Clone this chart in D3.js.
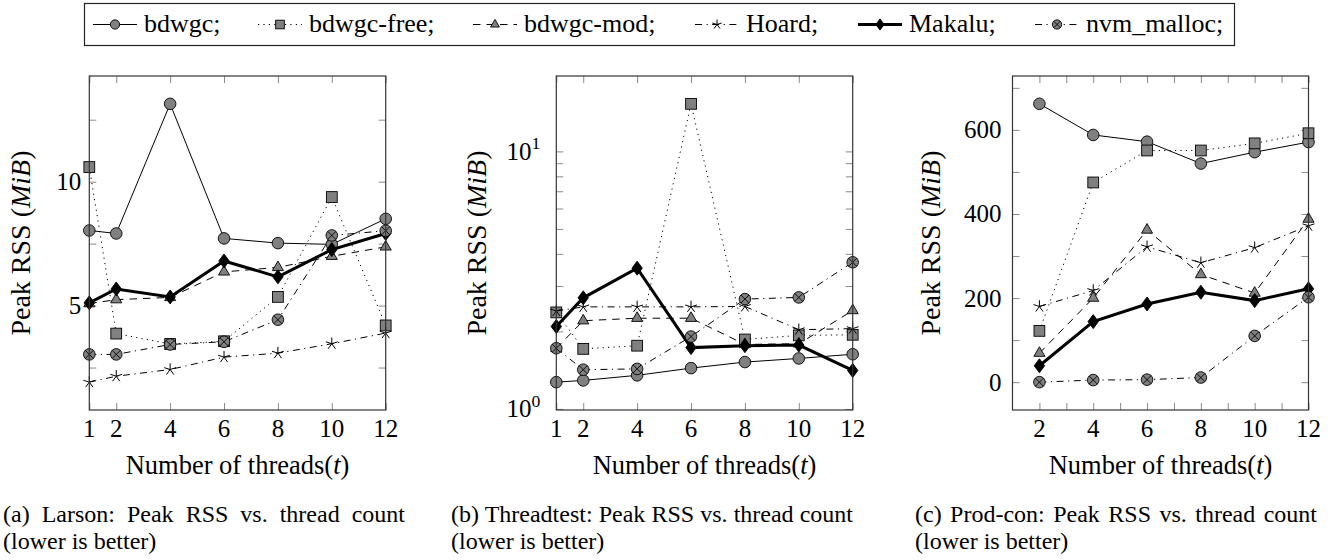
<!DOCTYPE html>
<html>
<head>
<meta charset="utf-8">
<script src="https://cdn.jsdelivr.net/npm/d3@7"></script>
</head>
<body style="margin:0">
<svg id="chart" width="1335" height="560"></svg>
<script>
// ---------------- data ----------------
const seriesNames = ["bdwgc;", "bdwgc-free;", "bdwgc-mod;", "Hoard;", "Makalu;", "nvm_malloc;"];

const threadsAB = [1, 2, 4, 6, 8, 10, 12];
const threadsC = [2, 4, 6, 8, 10, 12];

// (a) Larson
const larsonBdwgc     = [8.03, 7.91, 13.14, 7.71, 7.52, 7.47, 8.50];
const larsonBdwgcFree = [10.59, 3.87, 3.45, 3.56, 5.35, 9.38, 4.20];
const larsonBdwgcMod  = [5.08, 5.24, 5.33, 6.36, 6.54, 6.99, 7.37];
const larsonHoard     = [1.91, 2.15, 2.42, 2.92, 3.08, 3.46, 3.89];
const larsonMakalu    = [5.11, 5.67, 5.35, 6.80, 6.16, 7.26, 7.91];
const larsonNvm       = [3.03, 3.03, 3.43, 3.54, 4.43, 7.83, 8.02];

// (b) Threadtest (log scale)
const ttBdwgc     = [1.27, 1.29, 1.35, 1.44, 1.52, 1.57, 1.63];
const ttBdwgcFree = [2.37, 1.71, 1.76, 15.3, 1.86, 1.93, 1.94];
const ttBdwgcMod  = [1.72, 2.20, 2.25, 2.25, 1.78, 1.79, 2.41];
const ttHoard     = [2.40, 2.49, 2.49, 2.49, 2.50, 2.03, 2.05];
const ttMakalu    = [2.09, 2.70, 3.52, 1.73, 1.76, 1.77, 1.41];
const ttNvm       = [1.72, 1.42, 1.43, 1.91, 2.67, 2.71, 3.71];

// (c) Prod-con
const pcBdwgc     = [662, 588, 572, 520, 547, 571];
const pcBdwgcFree = [122, 475, 551, 551, 568, 592];
const pcBdwgcMod  = [69, 200, 362, 256, 212, 388];
const pcHoard     = [180, 218, 322, 284, 320, 372];
const pcMakalu    = [39, 144, 186, 214, 194, 222];
const pcNvm       = [0, 5, 6, 11, 110, 202];

// ticks
const xTicksAB = [1, 2, 4, 6, 8, 10, 12];
const xTicksC = [2, 4, 6, 8, 10, 12];
const xMinorC = [3, 5, 7, 9, 11];
const yTicksA = [5, 10];
const yMinorA = [2.5, 7.5, 12.5];
const yTicksB = [1, 10];
const yTickLabelsB = [["10", "0"], ["10", "1"]];
const yMinorB = [2, 3, 4, 5, 6, 7, 8, 9];
const yTicksC = [0, 200, 400, 600];
const yMinorC = [100, 300, 500, 700];

const captions = [
  ["(a) Larson: Peak RSS vs. thread count", "(lower is better)"],
  ["(b) Threadtest: Peak RSS vs. thread count", "(lower is better)"],
  ["(c) Prod-con: Peak RSS vs. thread count", "(lower is better)"]
];

// ---------------- styles ----------------
const GRAY = "#808080";
const BASE = 24; // all text is set at this size and scaled with a transform
const styles = [
  { marker: "circle",   width: 1.0, dash: null },
  { marker: "square",   width: 1.0, dash: "1.2 4.2" },
  { marker: "triangle", width: 1.0, dash: "7.5 6" },
  { marker: "star",     width: 1.0, dash: "7 4.5 1.2 4.5" },
  { marker: "diamond",  width: 3.0, dash: null },
  { marker: "otimes",   width: 1.0, dash: "7 4.5 1.2 4.5" }
];

// serif text at (x, y) with visual size `size`, optional rotation
function label(g, x, y, size, anchor, rot) {
  const k = size / BASE;
  const holder = g.append("g")
    .attr("transform", `translate(${x},${y})` + (rot ? ` rotate(${rot})` : "") + ` scale(${k})`);
  return holder.append("text").attr("x", 0).attr("y", 0)
    .style("font-family", '"Liberation Serif"').attr("font-size", BASE)
    .attr("text-anchor", anchor || "start");
}

function drawMarker(g, type, cx, cy, s) {
  s = s || 1;
  const sw = 0.9;
  if (type === "circle") {
    g.append("circle").attr("cx", cx).attr("cy", cy).attr("r", 5.8 * s)
      .attr("fill", GRAY).attr("stroke", "#000").attr("stroke-width", sw);
  } else if (type === "square") {
    const h = 5.4 * s;
    g.append("rect").attr("x", cx - h).attr("y", cy - h).attr("width", 2 * h).attr("height", 2 * h)
      .attr("fill", GRAY).attr("stroke", "#000").attr("stroke-width", sw);
  } else if (type === "triangle") {
    const r = 6.4 * s;
    const pts = [[cx, cy - r], [cx - r * 0.866, cy + r * 0.5], [cx + r * 0.866, cy + r * 0.5]];
    g.append("polygon").attr("points", pts.map(p => p.join(",")).join(" "))
      .attr("fill", GRAY).attr("stroke", "#000").attr("stroke-width", sw);
  } else if (type === "star") {
    const r = 6.2 * s;
    let d = "";
    for (let i = 0; i < 5; i++) {
      const a = -Math.PI / 2 + i * 2 * Math.PI / 5;
      d += `M${cx},${cy}L${cx + r * Math.cos(a)},${cy + r * Math.sin(a)}`;
    }
    g.append("path").attr("d", d).attr("stroke", "#000").attr("stroke-width", 1).attr("fill", "none");
  } else if (type === "diamond") {
    const w = 5.2 * s, h = 7 * s;
    g.append("polygon")
      .attr("points", `${cx},${cy - h} ${cx + w},${cy} ${cx},${cy + h} ${cx - w},${cy}`)
      .attr("fill", "#000").attr("stroke", "#000").attr("stroke-width", sw);
  } else if (type === "otimes") {
    const r = 5.8 * s;
    g.append("circle").attr("cx", cx).attr("cy", cy).attr("r", r)
      .attr("fill", GRAY).attr("stroke", "#000").attr("stroke-width", sw);
    const k = r * 0.7071;
    g.append("path")
      .attr("d", `M${cx - k},${cy - k}L${cx + k},${cy + k}M${cx - k},${cy + k}L${cx + k},${cy - k}`)
      .attr("stroke", "#000").attr("stroke-width", sw);
  }
}

const svg = d3.select("#chart");

// ---------------- legend ----------------
const legend = svg.append("g");
legend.append("rect").attr("x", 84.5).attr("y", 3.5).attr("width", 1150).attr("height", 42)
  .attr("fill", "#fff").attr("stroke", "#222").attr("stroke-width", 1.2);
const legendStarts = [93, 258, 473, 695, 858, 1035];
const LEG_LEN = 44, LEG_Y = 24.5;
seriesNames.forEach((name, i) => {
  const st = styles[i];
  const x0 = legendStarts[i];
  legend.append("line").attr("x1", x0).attr("x2", x0 + LEG_LEN).attr("y1", LEG_Y).attr("y2", LEG_Y)
    .attr("stroke", "#000").attr("stroke-width", st.width)
    .attr("stroke-dasharray", st.dash);
  drawMarker(legend, st.marker, x0 + LEG_LEN / 2, LEG_Y, 0.8);
  label(legend, x0 + LEG_LEN + 7, 32, 26).text(name);
});

// ---------------- panels ----------------
function enlarge(lo, hi, f) { const r = hi - lo; return [lo - f * r, hi + f * r]; }

const TOP = 76, BOTTOM = 410, TICK = 7, CAP_WIDTH = 402;

function drawPanel(cfg) {
  const g = svg.append("g");
  const x = d3.scaleLinear().domain([1, 12]).range([cfg.left, cfg.right]);
  const all = cfg.series.flat();
  let y;
  if (cfg.log) {
    const ld = enlarge(Math.log10(d3.min(all)), Math.log10(d3.max(all)), 0.1);
    y = d3.scaleLog().domain([10 ** ld[0], 10 ** ld[1]]).range([BOTTOM, TOP]);
  } else {
    y = d3.scaleLinear().domain(enlarge(d3.min(all), d3.max(all), 0.1)).range([BOTTOM, TOP]);
  }

  const tickStyle = sel => {
    sel.select(".domain").remove();
    sel.selectAll(".tick line").attr("stroke", "#8a8a8a").attr("stroke-width", 1);
    sel.selectAll(".tick text").remove();
  };
  const xAll = cfg.xTicks.concat(cfg.xMinor || []);
  const yAll = cfg.yTicks.concat(cfg.yMinor || []);
  g.append("g").attr("transform", `translate(0,${BOTTOM})`)
    .call(d3.axisBottom(x).tickValues(xAll).tickSize(-TICK)).call(tickStyle);
  g.append("g").attr("transform", `translate(0,${TOP})`)
    .call(d3.axisTop(x).tickValues(xAll).tickSize(-TICK)).call(tickStyle);
  g.append("g").attr("transform", `translate(${cfg.left},0)`)
    .call(d3.axisLeft(y).tickValues(yAll).tickSize(-TICK)).call(tickStyle);
  g.append("g").attr("transform", `translate(${cfg.right},0)`)
    .call(d3.axisRight(y).tickValues(yAll).tickSize(-TICK)).call(tickStyle);

  // series
  cfg.series.forEach((vals, i) => {
    const st = styles[i];
    const pts = cfg.xs.map((xv, j) => [x(xv), y(vals[j])]);
    g.append("path").attr("d", d3.line()(pts)).attr("fill", "none")
      .attr("stroke", "#000").attr("stroke-width", st.width)
      .attr("stroke-linejoin", "miter")
      .attr("stroke-dasharray", st.dash);
    pts.forEach(p => drawMarker(g, st.marker, p[0], p[1], 1));
  });

  // frame
  g.append("rect").attr("x", cfg.left).attr("y", TOP)
    .attr("width", cfg.right - cfg.left).attr("height", BOTTOM - TOP)
    .attr("fill", "none").attr("stroke", "#333").attr("stroke-width", 1.2);

  // x tick labels
  cfg.xTicks.forEach(t => {
    label(g, x(t), BOTTOM + 27, 25, "middle").text(t);
  });
  // y tick labels
  cfg.yTicks.forEach((t, k) => {
    const tx = label(g, cfg.left - cfg.yLabelGap, y(t) + 8.5, 25, "end");
    if (cfg.yLabels) {
      tx.append("tspan").text(cfg.yLabels[k][0]);
      tx.append("tspan").attr("font-size", 17).attr("dy", -10).text(cfg.yLabels[k][1]);
    } else {
      tx.text(t);
    }
  });

  // axis titles
  const cx = (cfg.left + cfg.right) / 2;
  const xt = label(g, cx, 474, 26.5, "middle");
  xt.append("tspan").text("Number of threads(");
  xt.append("tspan").attr("font-style", "italic").text("t");
  xt.append("tspan").text(")");

  const yt = label(g, cfg.yTitleX, (TOP + BOTTOM) / 2, 28, "middle", -90);
  yt.append("tspan").text("Peak RSS (");
  yt.append("tspan").attr("font-style", "italic").text("MiB");
  yt.append("tspan").text(")");

  // caption (first line justified to the column width)
  const c1 = label(g, cfg.capX, 522, 24).text(cfg.caption[0]);
  const nat = c1.node().getComputedTextLength();
  const gaps = cfg.caption[0].split(" ").length - 1;
  if (CAP_WIDTH > nat) c1.attr("word-spacing", (CAP_WIDTH - nat) / gaps);
  label(g, cfg.capX, 549, 24).text(cfg.caption[1]);
}

drawPanel({
  left: 89.3, right: 385.7, xs: threadsAB, log: false,
  series: [larsonBdwgc, larsonBdwgcFree, larsonBdwgcMod, larsonHoard, larsonMakalu, larsonNvm],
  xTicks: xTicksAB, yTicks: yTicksA, yMinor: yMinorA, yLabelGap: 8,
  yTitleX: 30, caption: captions[0], capX: 3
});
drawPanel({
  left: 556.3, right: 852.7, xs: threadsAB, log: true,
  series: [ttBdwgc, ttBdwgcFree, ttBdwgcMod, ttHoard, ttMakalu, ttNvm],
  xTicks: xTicksAB, yTicks: yTicksB, yMinor: yMinorB, yLabels: yTickLabelsB, yLabelGap: 16,
  yTitleX: 486, caption: captions[1], capX: 451
});
drawPanel({
  left: 1012.5, right: 1308.5, xs: threadsC, log: false,
  series: [pcBdwgc, pcBdwgcFree, pcBdwgcMod, pcHoard, pcMakalu, pcNvm],
  xTicks: xTicksC, xMinor: xMinorC, yTicks: yTicksC, yMinor: yMinorC, yLabelGap: 11,
  yTitleX: 940, caption: captions[2], capX: 915
});
</script>
</body>
</html>
